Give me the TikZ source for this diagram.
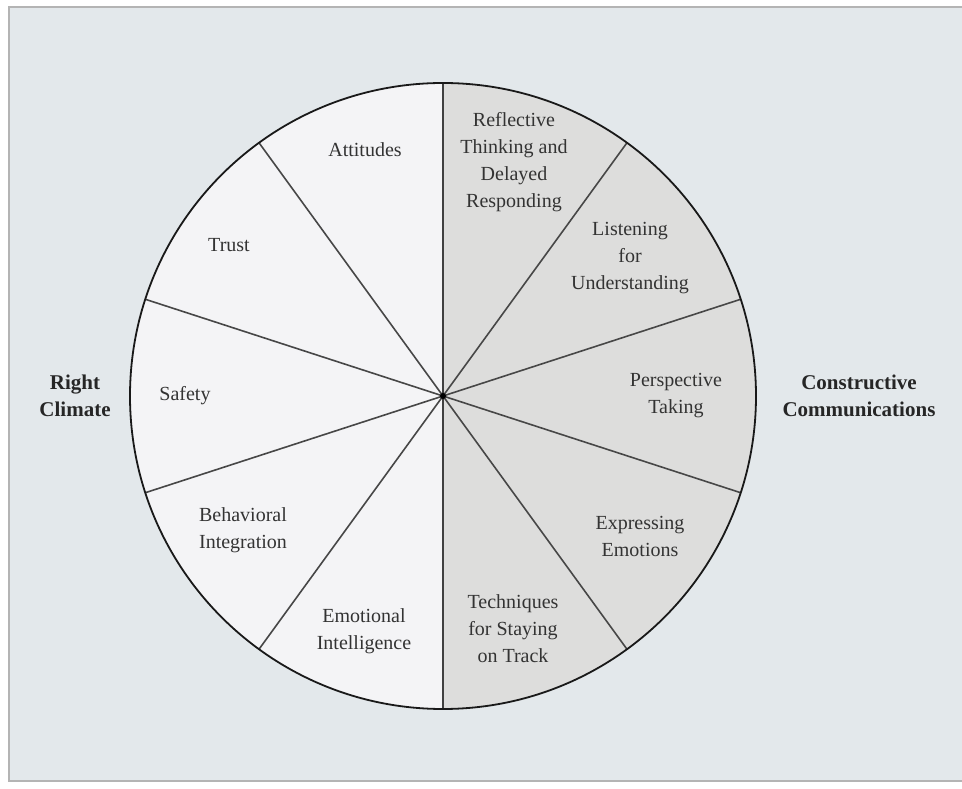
\documentclass[tikz,border=0pt]{standalone}
\usepackage{fontspec}
\setmainfont{Liberation Serif}
\usetikzlibrary{calc}
\definecolor{panel}{HTML}{E3E8EB}
\definecolor{frame}{HTML}{B4B4B4}
\definecolor{climate}{HTML}{F4F4F6}
\definecolor{commfill}{HTML}{DDDDDC}
\definecolor{ink}{HTML}{333333}
\tikzset{
  spoke/.style={line width=1.6pt, color=black!72},
  part/.style={align=center, font=\fontsize{20}{27}\selectfont, text=ink, inner sep=0pt},
  side/.style={align=center, font=\fontsize{21}{27}\selectfont\bfseries, text=black!85, inner sep=0pt}
}

\begin{document}
\begin{tikzpicture}[x=1pt,y=1pt]
			%%%%% START %%%%%
			\useasboundingbox (0,0) rectangle (962,788);
			\clip (0,0) rectangle (962,788);
			\draw[fill=panel, draw=frame, line width=2.2pt] (9,7) rectangle (980,781);
			
			\coordinate (hub) at (443,392);
			\fill[climate] (hub) -- ++(90:313) arc (90:270:313) -- cycle;
			\fill[commfill] (hub) -- ++(-90:313) arc (-90:90:313) -- cycle;
			
			\foreach \a in {18,54,126,162,198,234,306,342}
			  \draw[spoke] (hub) -- ++(\a:313);
			\draw[line width=2.6pt, color=black!75] ($(hub)+(0,313)$) -- ($(hub)+(0,-313)$);
			\draw[line width=1.8pt, color=black!90] (hub) circle (313);
			\fill[black] (hub) circle (3);
			
			\node[part] (attitudes) at (365,638) {Attitudes};
			\node[part] (trust) at (229,543) {Trust};
			\node[part] (safety) at (185,392) {Safety};
			\node[part] (behavioral) at (243,258) {Behavioral\\Integration};
			\node[part] (emotional) at (364,157) {Emotional\\Intelligence};
			
			\node[part] (reflective) at (514,626) {Reflective\\Thinking and\\Delayed\\Responding};
			\node[part] (listening) at (630,530) {Listening\\for\\Understanding};
			\node[part] (perspective) at (676,392) {Perspective\\Taking};
			\node[part] (expressing) at (640,252) {Expressing\\Emotions};
			\node[part] (techniques) at (513,159) {Techniques\\for Staying\\on Track};
			
			\node[side] (climate) at (75,392) {Right\\Climate};
			\node[side] (constructive) at (859,392) {Constructive\\Communications};
			%%%%% END %%%%%
\end{tikzpicture}
\end{document}
